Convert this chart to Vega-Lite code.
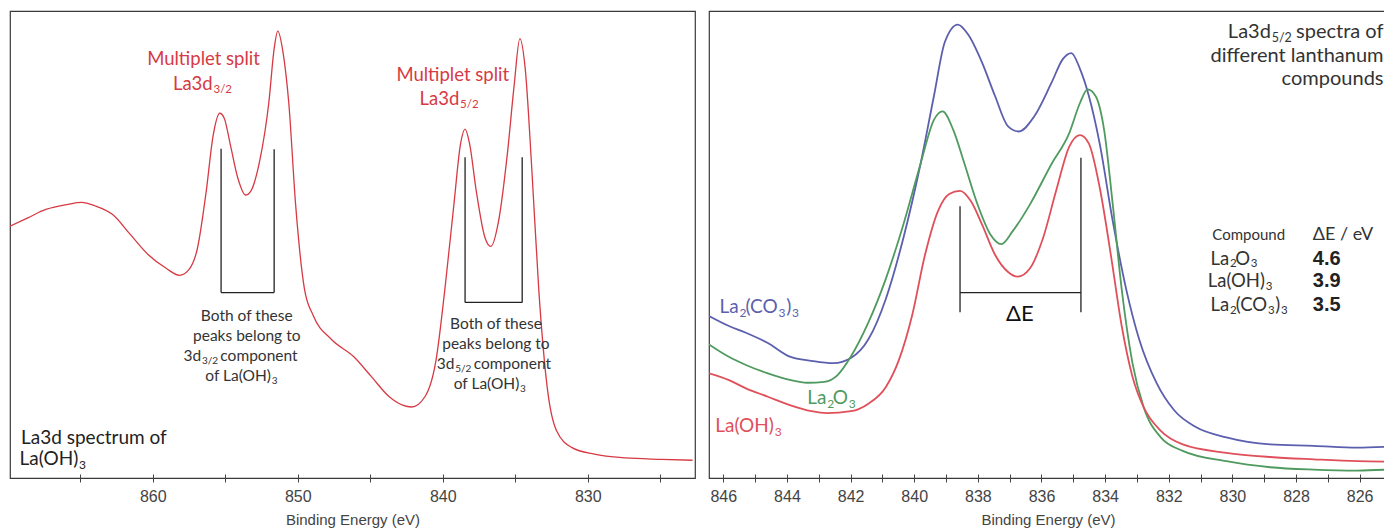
{
  "$schema": "https://vega.github.io/schema/vega-lite/v6.json",
  "padding": {"left": 9, "top": 10, "right": 0, "bottom": 0},
  "background": "white",
  "config": {
    "view": {"stroke": "#3a3a3a", "strokeWidth": 1.2},
    "concat": {"spacing": 12},
    "axis": {
      "domain": false, "grid": false, "offset": -4, "tickSize": 8, "tickColor": "#444", "tickWidth": 1,
      "labelFont": "Liberation Sans Narrow, Liberation Sans", "labelFontSize": 16, "labelColor": "#444", "labelPadding": 6,
      "titleFont": "Liberation Sans Narrow, Liberation Sans", "titleFontSize": 15, "titleFontWeight": "normal", "titleColor": "#444", "titlePadding": 8
    },
    "text": {"font": "Lato", "baseline": "middle"}
  },
  "datasets": {
    "left": [
      {"e":869.85,"i":53.9},{"e":868.62,"i":55.7},{"e":867.38,"i":57.5},{"e":865.85,"i":58.6},{"e":864.92,"i":59.0},{"e":864.0,"i":58.3},{"e":862.77,"i":56.4},{"e":861.54,"i":52.1},{"e":860.31,"i":47.8},{"e":859.08,"i":44.9},{"e":858.15,"i":43.4},{"e":857.54,"i":44.5},{"e":856.92,"i":49.2},{"e":856.31,"i":61.5},{"e":855.85,"i":73.1},{"e":855.38,"i":78.1},{"e":855.08,"i":77.1},{"e":854.62,"i":70.9},{"e":854.15,"i":64.4},{"e":853.6,"i":60.6},{"e":853.23,"i":61.5},{"e":852.62,"i":68.0},{"e":852.0,"i":80.3},{"e":851.63,"i":91.9},{"e":851.38,"i":95.7},{"e":851.02,"i":91.2},{"e":850.62,"i":80.3},{"e":850.15,"i":58.6},{"e":849.54,"i":40.5},{"e":848.92,"i":34.7},{"e":847.69,"i":29.7},{"e":846.15,"i":26.0},{"e":844.92,"i":21.7},{"e":843.69,"i":17.4},{"e":842.77,"i":15.6},{"e":842.15,"i":15.2},{"e":841.23,"i":17.4},{"e":840.46,"i":25.3},{"e":839.85,"i":40.5},{"e":839.23,"i":58.6},{"e":838.77,"i":71.6},{"e":838.46,"i":74.7},{"e":838.15,"i":71.6},{"e":837.69,"i":61.5},{"e":837.08,"i":51.4},{"e":836.68,"i":49.6},{"e":836.15,"i":55.0},{"e":835.54,"i":69.5},{"e":835.08,"i":83.9},{"e":834.68,"i":94.1},{"e":834.31,"i":87.6},{"e":833.85,"i":65.8},{"e":833.38,"i":40.5},{"e":832.77,"i":18.8},{"e":832.15,"i":10.1},{"e":831.08,"i":6.5},{"e":829.54,"i":5.1},{"e":827.38,"i":4.3},{"e":824.92,"i":4.0},{"e":822.77,"i":3.8}
    ],
    "right": [
      {"c":"La2(CO3)3","e":846.45,"i":34.7},{"c":"La2(CO3)3","e":845.84,"i":32.6},{"c":"La2(CO3)3","e":845.29,"i":31.1},{"c":"La2(CO3)3","e":844.6,"i":28.9},{"c":"La2(CO3)3","e":843.91,"i":26.0},{"c":"La2(CO3)3","e":843.23,"i":25.1},{"c":"La2(CO3)3","e":842.54,"i":24.6},{"c":"La2(CO3)3","e":841.99,"i":25.7},{"c":"La2(CO3)3","e":841.44,"i":29.7},{"c":"La2(CO3)3","e":840.89,"i":38.4},{"c":"La2(CO3)3","e":840.34,"i":51.4},{"c":"La2(CO3)3","e":839.8,"i":67.3},{"c":"La2(CO3)3","e":839.38,"i":81.8},{"c":"La2(CO3)3","e":839.04,"i":93.3},{"c":"La2(CO3)3","e":838.63,"i":97.1},{"c":"La2(CO3)3","e":838.29,"i":94.8},{"c":"La2(CO3)3","e":837.87,"i":89.0},{"c":"La2(CO3)3","e":837.46,"i":81.8},{"c":"La2(CO3)3","e":837.05,"i":75.3},{"c":"La2(CO3)3","e":836.71,"i":74.2},{"c":"La2(CO3)3","e":836.23,"i":77.4},{"c":"La2(CO3)3","e":835.68,"i":84.7},{"c":"La2(CO3)3","e":835.33,"i":89.7},{"c":"La2(CO3)3","e":835.06,"i":91.0},{"c":"La2(CO3)3","e":834.79,"i":87.6},{"c":"La2(CO3)3","e":834.51,"i":81.8},{"c":"La2(CO3)3","e":834.17,"i":71.6},{"c":"La2(CO3)3","e":833.76,"i":55.0},{"c":"La2(CO3)3","e":833.34,"i":40.5},{"c":"La2(CO3)3","e":832.93,"i":29.7},{"c":"La2(CO3)3","e":832.38,"i":20.3},{"c":"La2(CO3)3","e":831.83,"i":14.5},{"c":"La2(CO3)3","e":831.15,"i":10.9},{"c":"La2(CO3)3","e":830.19,"i":8.7},{"c":"La2(CO3)3","e":828.81,"i":7.2},{"c":"La2(CO3)3","e":827.44,"i":6.9},{"c":"La2(CO3)3","e":826.07,"i":6.5},{"c":"La2(CO3)3","e":825.14,"i":6.7},
      {"c":"La2O3","e":846.45,"i":28.6},{"c":"La2O3","e":845.84,"i":26.0},{"c":"La2O3","e":845.29,"i":24.2},{"c":"La2O3","e":844.6,"i":22.4},{"c":"La2O3","e":843.91,"i":21.0},{"c":"La2O3","e":843.36,"i":20.4},{"c":"La2O3","e":842.82,"i":20.6},{"c":"La2O3","e":842.4,"i":22.1},{"c":"La2O3","e":841.99,"i":26.0},{"c":"La2O3","e":841.44,"i":33.3},{"c":"La2O3","e":840.89,"i":42.7},{"c":"La2O3","e":840.34,"i":54.3},{"c":"La2O3","e":839.8,"i":67.3},{"c":"La2O3","e":839.38,"i":76.7},{"c":"La2O3","e":839.11,"i":78.5},{"c":"La2O3","e":838.77,"i":74.5},{"c":"La2O3","e":838.42,"i":67.3},{"c":"La2O3","e":838.01,"i":58.6},{"c":"La2O3","e":837.6,"i":52.1},{"c":"La2O3","e":837.26,"i":50.1},{"c":"La2O3","e":836.91,"i":52.8},{"c":"La2O3","e":836.36,"i":58.6},{"c":"La2O3","e":835.68,"i":67.3},{"c":"La2O3","e":835.13,"i":73.8},{"c":"La2O3","e":834.79,"i":80.3},{"c":"La2O3","e":834.55,"i":83.2},{"c":"La2O3","e":834.3,"i":81.8},{"c":"La2O3","e":834.03,"i":74.5},{"c":"La2O3","e":833.76,"i":58.6},{"c":"La2O3","e":833.48,"i":40.5},{"c":"La2O3","e":833.14,"i":24.6},{"c":"La2O3","e":832.79,"i":15.2},{"c":"La2O3","e":832.25,"i":8.7},{"c":"La2O3","e":831.56,"i":5.8},{"c":"La2O3","e":830.19,"i":3.6},{"c":"La2O3","e":828.81,"i":2.3},{"c":"La2O3","e":827.44,"i":1.8},{"c":"La2O3","e":826.07,"i":1.6},{"c":"La2O3","e":825.14,"i":1.8},
      {"c":"La(OH)3","e":846.45,"i":22.4},{"c":"La(OH)3","e":845.84,"i":21.0},{"c":"La(OH)3","e":845.29,"i":19.2},{"c":"La(OH)3","e":844.6,"i":17.4},{"c":"La(OH)3","e":843.91,"i":15.6},{"c":"La(OH)3","e":843.23,"i":14.3},{"c":"La(OH)3","e":842.75,"i":13.9},{"c":"La(OH)3","e":841.99,"i":14.3},{"c":"La(OH)3","e":841.44,"i":15.9},{"c":"La(OH)3","e":840.89,"i":19.5},{"c":"La(OH)3","e":840.48,"i":25.3},{"c":"La(OH)3","e":840.07,"i":34.7},{"c":"La(OH)3","e":839.66,"i":47.8},{"c":"La(OH)3","e":839.25,"i":57.2},{"c":"La(OH)3","e":838.9,"i":60.8},{"c":"La(OH)3","e":838.56,"i":61.5},{"c":"La(OH)3","e":838.22,"i":59.3},{"c":"La(OH)3","e":837.87,"i":54.3},{"c":"La(OH)3","e":837.46,"i":47.8},{"c":"La(OH)3","e":837.05,"i":44.1},{"c":"La(OH)3","e":836.75,"i":43.1},{"c":"La(OH)3","e":836.36,"i":44.9},{"c":"La(OH)3","e":835.95,"i":51.4},{"c":"La(OH)3","e":835.54,"i":61.5},{"c":"La(OH)3","e":835.13,"i":70.9},{"c":"La(OH)3","e":834.79,"i":73.4},{"c":"La(OH)3","e":834.51,"i":71.6},{"c":"La(OH)3","e":834.17,"i":62.2},{"c":"La(OH)3","e":833.82,"i":47.8},{"c":"La(OH)3","e":833.48,"i":32.6},{"c":"La(OH)3","e":833.14,"i":21.7},{"c":"La(OH)3","e":832.79,"i":15.2},{"c":"La(OH)3","e":832.25,"i":10.1},{"c":"La(OH)3","e":831.56,"i":7.2},{"c":"La(OH)3","e":830.19,"i":5.4},{"c":"La(OH)3","e":828.81,"i":4.5},{"c":"La(OH)3","e":827.44,"i":4.0},{"c":"La(OH)3","e":826.07,"i":3.6},{"c":"La(OH)3","e":825.14,"i":3.5}
    ]
  },
  "hconcat": [
    {
      "width": 685, "height": 467,
      "encoding": {
        "x": {"field": "e", "type": "quantitative", "scale": {"domain": [822.6, 869.85], "reverse": true, "nice": false, "zero": false},
              "axis": {"title": "Binding Energy (eV)", "values": [865,860,855,850,845,840,835,830,825], "labelExpr": "datum.value % 10 == 0 ? datum.label : ''"}},
        "y": {"field": "i", "type": "quantitative", "scale": {"domain": [0, 100], "nice": false, "zero": false}, "axis": null}
      },
      "layer": [
        {"data": {"name": "left"}, "mark": {"type": "line", "color": "#d63a44", "strokeWidth": 1.3, "interpolate": "monotone", "clip": true}},
        {"data": {"values": [
          {"e":855.29,"i":70.5,"e2":855.29,"i2":39.7},{"e":851.63,"i":70.4,"e2":851.63,"i2":39.7},{"e":855.29,"i":39.7,"e2":851.63,"i2":39.7},
          {"e":838.46,"i":68.7,"e2":838.46,"i2":37.6},{"e":834.52,"i":68.7,"e2":834.52,"i2":37.6},{"e":838.46,"i":37.6,"e2":834.52,"i2":37.6}]},
         "mark": {"type": "rule", "color": "#222", "strokeWidth": 1.3},
         "encoding": {"x2": {"field": "e2"}, "y2": {"field": "i2"}}},
        {"data": {"values": [{"t":"Multiplet split","e":856.5,"i":89.66},{"t":"Multiplet split","e":839.31,"i":86.4}]},
         "mark": {"type": "text", "color": "#d63a44", "fontSize": 18.5, "align": "center"},
         "encoding": {"text": {"field": "t"}}},
        {"data": {"values": [{"t":"La3d","e":855.87,"i":84.3},{"t":"La3d","e":838.86,"i":81.1}]},
         "mark": {"type": "text", "color": "#d63a44", "fontSize": 18.5, "align": "right"},
         "encoding": {"text": {"field": "t"}}},
        {"data": {"values": [{"t":"3/2","e":855.87,"i":84.3},{"t":"5/2","e":838.86,"i":81.1}]},
         "mark": {"type": "text", "color": "#d63a44", "fontSize": 11.5, "align": "left", "dy": 5.5, "dx": 0.8},
         "encoding": {"text": {"field": "t"}}},
        {"data": {"values": [
          {"t":"Both of these","e":853.52,"i":34.69},{"t":"peaks belong to","e":853.52,"i":30.41},
          {"t":"Both of these","e":836.33,"i":32.9},{"t":"peaks belong to","e":836.33,"i":28.6}]},
         "mark": {"type": "text", "color": "#333", "fontSize": 15.5, "align": "center"},
         "encoding": {"text": {"field": "t"}}},
        {"data": {"values": [
          {"t":"3d","e":856.67,"i":26.12},{"t":"of La(OH)","e":851.85,"i":21.84},
          {"t":"3d","e":839.2,"i":24.35},{"t":"of La(OH)","e":834.72,"i":20.06}]},
         "mark": {"type": "text", "color": "#333", "fontSize": 15.5, "align": "right"},
         "encoding": {"text": {"field": "t"}}},
        {"data": {"values": [
          {"t":"3/2","e":856.67,"i":26.12},{"t":"3","e":851.85,"i":21.84},
          {"t":"5/2","e":839.2,"i":24.35},{"t":"3","e":834.72,"i":20.06}]},
         "mark": {"type": "text", "color": "#333", "fontSize": 10, "align": "left", "dy": 4.5, "dx": 0.8},
         "encoding": {"text": {"field": "t"}}},
        {"data": {"values": [{"t":"component","e":855.34,"i":26.12},{"t":"component","e":837.86,"i":24.35}]},
         "mark": {"type": "text", "color": "#333", "fontSize": 15.5, "align": "left"},
         "encoding": {"text": {"field": "t"}}},
        {"data": {"values": [{"t":"La3d spectrum of","e":869.09,"i":8.6}]},
         "mark": {"type": "text", "color": "#222", "fontSize": 19, "align": "left"},
         "encoding": {"text": {"field": "t"}}},
        {"data": {"values": [{"t":"La(OH)","e":865.14,"i":4.0}]},
         "mark": {"type": "text", "color": "#222", "fontSize": 19, "align": "right"},
         "encoding": {"text": {"field": "t"}}},
        {"data": {"values": [{"t":"3","e":865.14,"i":4.0}]},
         "mark": {"type": "text", "color": "#222", "fontSize": 12, "align": "left", "dy": 5.5, "dx": 0.8},
         "encoding": {"text": {"field": "t"}}}
      ]
    },
    {
      "width": 678, "height": 467,
      "encoding": {
        "x": {"field": "e", "type": "quantitative", "scale": {"domain": [825.14, 846.45], "reverse": true, "nice": false, "zero": false},
              "axis": {"title": "Binding Energy (eV)", "values": [846,845,844,843,842,841,840,839,838,837,836,835,834,833,832,831,830,829,828,827,826,825], "labelExpr": "datum.value % 2 == 0 ? datum.label : ''"}},
        "y": {"field": "i", "type": "quantitative", "scale": {"domain": [0, 100], "nice": false, "zero": false}, "axis": null},
        "color": {"field": "c", "type": "nominal", "scale": {"domain": ["La2(CO3)3","La2O3","La(OH)3"], "range": ["#5b5fae","#4f9a5e","#e0505a"]}, "legend": null}
      },
      "layer": [
        {"data": {"name": "right"}, "mark": {"type": "line", "strokeWidth": 1.8, "interpolate": "monotone", "clip": true}},
        {"data": {"values": [
          {"e":838.56,"i":58.2,"e2":838.56,"i2":35.5},{"e":834.76,"i":68.6,"e2":834.76,"i2":35.5},{"e":838.56,"i":39.7,"e2":834.76,"i2":39.7}]},
         "mark": {"type": "rule", "color": "#222", "strokeWidth": 1.3},
         "encoding": {"x2": {"field": "e2"}, "y2": {"field": "i2"}, "color": {"value": "#222"}}},
        {"data": {"values": [{"t":"ΔE","e":836.68,"i":35.1}]},
         "mark": {"type": "text", "fontSize": 22, "align": "center"},
         "encoding": {"text": {"field": "t"}, "color": {"value": "#111"}}},
        {"data": {"values": [
          {"c":"La2(CO3)3","t":"La","e":845.514,"i":36.6},{"c":"La2(CO3)3","t":"(CO","e":844.29,"i":36.6},{"c":"La2(CO3)3","t":")","e":843.863,"i":36.6},
          {"c":"La2O3","t":"La","e":842.757,"i":17.2},{"c":"La2O3","t":"O","e":842.085,"i":17.2},
          {"c":"La(OH)3","t":"La(OH)","e":844.41,"i":11.1}]},
         "mark": {"type": "text", "fontSize": 19, "align": "right"},
         "encoding": {"text": {"field": "t"}}},
        {"data": {"values": [
          {"c":"La2(CO3)3","t":"2","e":845.514,"i":36.6},{"c":"La2(CO3)3","t":"3","e":844.29,"i":36.6},{"c":"La2(CO3)3","t":"3","e":843.863,"i":36.6},
          {"c":"La2O3","t":"2","e":842.757,"i":17.2},{"c":"La2O3","t":"3","e":842.085,"i":17.2},
          {"c":"La(OH)3","t":"3","e":844.41,"i":11.1}]},
         "mark": {"type": "text", "fontSize": 12, "align": "left", "dy": 6, "dx": 0.8},
         "encoding": {"text": {"field": "t"}}},
        {"data": {"values": [{"t":"La3d","e":828.79,"i":95.6},{"t":"spectra of","e":825.25,"i":95.6},{"t":"different lanthanum","e":825.25,"i":90.4},{"t":"compounds","e":825.25,"i":85.4}]},
         "mark": {"type": "text", "fontSize": 20, "align": "right"},
         "encoding": {"text": {"field": "t"}, "color": {"value": "#333"}}},
        {"data": {"values": [{"t":"5/2","e":828.79,"i":95.6}]},
         "mark": {"type": "text", "fontSize": 12.5, "align": "left", "dy": 6, "dx": 0.8},
         "encoding": {"text": {"field": "t"}, "color": {"value": "#333"}}},
        {"data": {"values": [{"t":"Compound","e":830.63,"i":52.1}]},
         "mark": {"type": "text", "fontSize": 15, "align": "left"},
         "encoding": {"text": {"field": "t"}, "color": {"value": "#333"}}},
        {"data": {"values": [{"t":"ΔE / eV","e":827.47,"i":52.1}]},
         "mark": {"type": "text", "fontSize": 18, "align": "left"},
         "encoding": {"text": {"field": "t"}, "color": {"value": "#333"}}},
        {"data": {"values": [
          {"t":"La","e":830.099,"i":47.0},{"t":"O","e":829.445,"i":47.0},
          {"t":"La(OH)","e":828.977,"i":42.1},
          {"t":"La","e":830.099,"i":37.0},{"t":"(CO","e":828.908,"i":37.0},{"t":")","e":828.493,"i":37.0}]},
         "mark": {"type": "text", "fontSize": 18.5, "align": "right"},
         "encoding": {"text": {"field": "t"}, "color": {"value": "#333"}}},
        {"data": {"values": [
          {"t":"2","e":830.099,"i":47.0},{"t":"3","e":829.445,"i":47.0},
          {"t":"3","e":828.977,"i":42.1},
          {"t":"2","e":830.099,"i":37.0},{"t":"3","e":828.908,"i":37.0},{"t":"3","e":828.493,"i":37.0}]},
         "mark": {"type": "text", "fontSize": 11.5, "align": "left", "dy": 5.5, "dx": 0.8},
         "encoding": {"text": {"field": "t"}, "color": {"value": "#333"}}},
        {"data": {"values": [{"t":"4.6","e":827.47,"i":47.0},{"t":"3.9","e":827.47,"i":42.1},{"t":"3.5","e":827.47,"i":37.0}]},
         "mark": {"type": "text", "font": "Liberation Sans", "fontWeight": "bold", "fontSize": 20, "align": "left"},
         "encoding": {"text": {"field": "t"}, "color": {"value": "#222"}}}
      ]
    }
  ]
}
